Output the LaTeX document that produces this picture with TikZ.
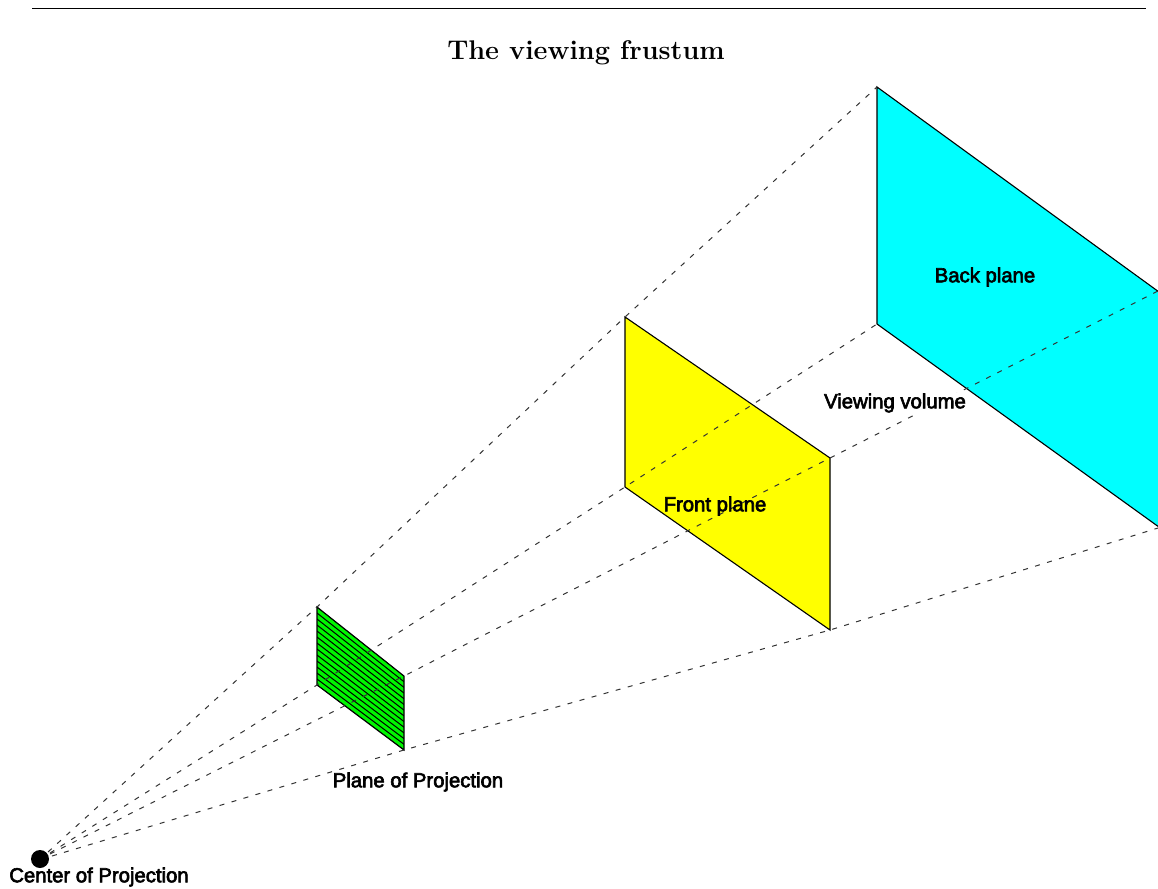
\documentclass[tikz,border=0pt]{standalone}
\usepackage{fontspec}
\usetikzlibrary{calc}
\newfontfamily\labelfont[FakeBold=3]{Liberation Sans}
\definecolor{cyanplane}{RGB}{0,255,255}
\definecolor{yellowplane}{RGB}{255,255,0}
\definecolor{greenplane}{RGB}{0,245,0}
\tikzset{
  plane/.style={draw=black,line width=1.1pt,line join=miter},
  ray/.style={draw=black!80,line width=1pt,dash pattern=on 5pt off 7.5pt},
  tag/.style={font=\labelfont\fontsize{20.3}{22}\selectfont,inner sep=0pt,text=black},
}
\begin{document}
\begin{tikzpicture}[x=1pt,y=-1pt]
\useasboundingbox (0,0) rectangle (1158,888);
\clip (0,0) rectangle (1158,888);
% rule and title
\coordinate (ruleL) at (32,8);
\coordinate (ruleR) at (1146,8);
\draw[line width=0.8pt] (ruleL) -- (ruleR);
\node[inner sep=0pt] (title) at (586,53) {\fontsize{27}{30}\bfseries\selectfont The viewing frustum};
% corners
\coordinate (cop) at (40,859);
\coordinate (s1) at (48,852);
\coordinate (s2) at (50,854);
\coordinate (s3) at (50,853);
\coordinate (s4) at (52,856);
\coordinate (ga) at (317,607);
\coordinate (gb) at (404,676);
\coordinate (gc) at (404,750);
\coordinate (gd) at (317,685);
\coordinate (ya) at (625,317);
\coordinate (yb) at (830,458);
\coordinate (yc) at (830,630);
\coordinate (yd) at (625,487);
\coordinate (ca) at (877,87);
\coordinate (cb) at (1170,300);
\coordinate (cc) at (1170,535);
\coordinate (cd) at (877,324);
\coordinate (e2) at (1158,291);
\coordinate (e4) at (1158,528);
% planes
\path[plane,fill=cyanplane] (ca) -- (cb) -- (cc) -- (cd) -- cycle;
\path[plane,fill=yellowplane] (ya) -- (yb) -- (yc) -- (yd) -- cycle;
\path[fill=greenplane] (ga) -- (gb) -- (gc) -- (gd) -- cycle;
\begin{scope}
\clip (ga) -- (gb) -- (gc) -- (gd) -- cycle;
\foreach \t in {0,1,...,13}{
  \draw[line width=1pt] ($(ga)!\t/13!(gd)$) -- ($(gb)!\t/13!(gc)$);
}
\end{scope}
\draw[plane] (ga) -- (gb) -- (gc) -- (gd) -- cycle;
% rays
\draw[ray] (s1) -- (ga) -- (ya) -- (ca);
\draw[ray] (s2) -- (gb) -- (yb) -- (e2);
\draw[ray] (s3) -- (gd) -- (yd) -- (cd);
\draw[ray] (s4) -- (gc) -- (yc) -- (e4);
% labels
\fill (cop) circle (9);
\node[tag] (cl) at (99,877) {Center of Projection};
\node[tag] (pl) at (418,782) {Plane of Projection};
\node[tag] (fl) at (715,506) {Front plane};
\node[tag] (bl) at (985,277) {Back plane};
\node[tag,fill=white,inner sep=1pt] (vl) at (895,403) {Viewing volume};
\end{tikzpicture}
\end{document}
